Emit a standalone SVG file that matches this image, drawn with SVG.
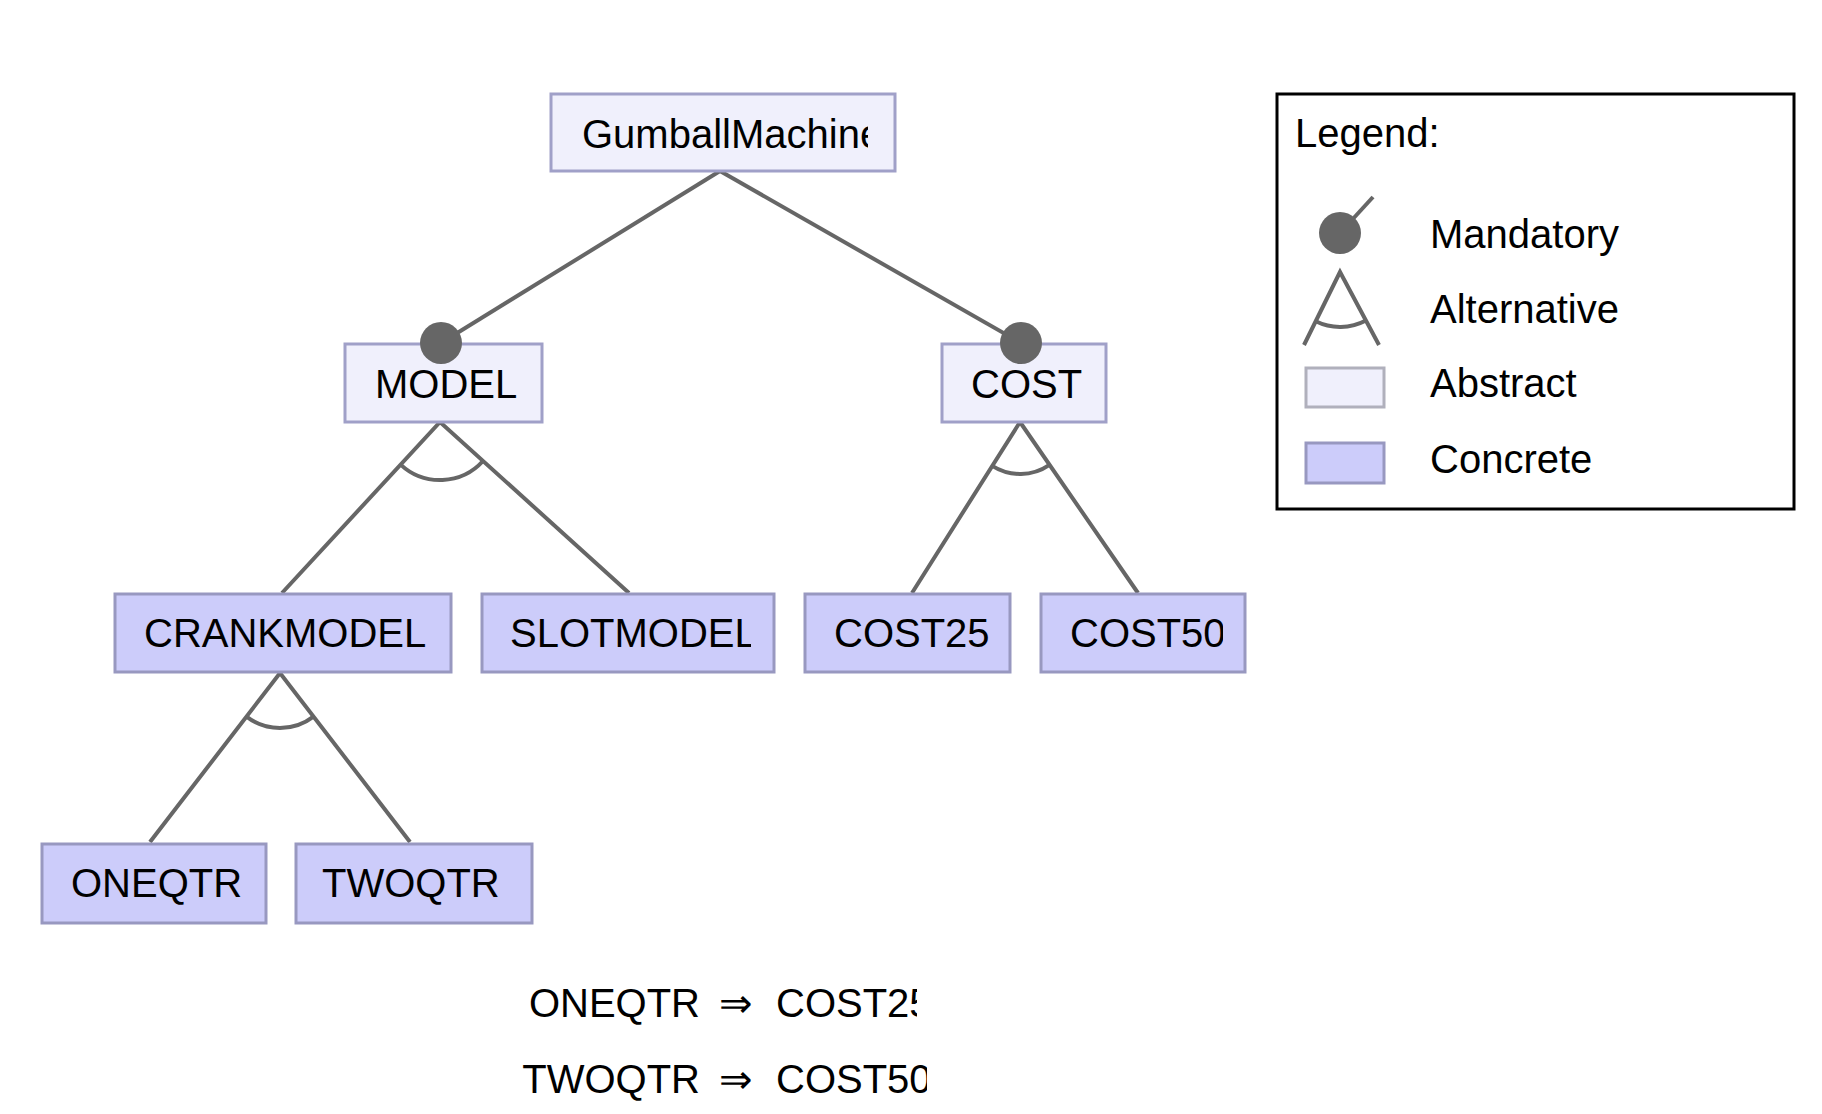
<svg xmlns="http://www.w3.org/2000/svg" width="1822" height="1114" viewBox="0 0 1822 1114">
<style>
text{font-family:"Liberation Sans",Arial,sans-serif;font-size:40px;fill:#000}
.abs{fill:#f0f0fc;stroke:#a0a0c8;stroke-width:3}
.con{fill:#ccccfa;stroke:#9898c0;stroke-width:3}
.ln{stroke:#666;stroke-width:4;fill:none}
.dot{fill:#666}
</style>
<defs>
<clipPath id="cGM"><rect x="553" y="96" width="315" height="72"/></clipPath>
<clipPath id="cSM"><rect x="483" y="596" width="268" height="74"/></clipPath>
<clipPath id="cC50"><rect x="1043" y="596" width="180" height="74"/></clipPath>
<clipPath id="cK1"><rect x="500" y="960" width="417" height="70"/></clipPath>
<clipPath id="cK2"><rect x="500" y="1035" width="427" height="75"/></clipPath>
</defs>
<rect width="1822" height="1114" fill="#fff"/>
<g id="connectors">
<line class="ln" x1="720" y1="171" x2="441" y2="343"/>
<line class="ln" x1="720" y1="171" x2="1021" y2="343"/>
<polyline class="ln" points="282,593 440,422 629,593"/>
<path class="ln" d="M400.6,464.6 A58,58 0 0 0 483,461"/>
<polyline class="ln" points="912,593 1020,422 1138,593"/>
<path class="ln" d="M992.2,465.9 A52,52 0 0 0 1049.5,464.8"/>
<polyline class="ln" points="150,842 280,673 410,842"/>
<path class="ln" d="M246.5,716.6 A55,55 0 0 0 313.5,716.6"/>
</g>
<g id="GumballMachine">
<rect class="abs" x="551" y="94" width="344" height="77"/>
<text x="582" y="148" clip-path="url(#cGM)">GumballMachine</text>
</g>
<g id="MODEL">
<rect class="abs" x="345" y="344" width="197" height="78"/>
<text x="375" y="398">MODEL</text>
<circle class="dot" cx="441" cy="343" r="21"/>
</g>
<g id="COST">
<rect class="abs" x="942" y="344" width="164" height="78"/>
<text x="971" y="398">COST</text>
<circle class="dot" cx="1021" cy="343" r="21"/>
</g>
<g id="CRANKMODEL">
<rect class="con" x="115" y="594" width="336" height="78"/>
<text x="144" y="647">CRANKMODEL</text>
</g>
<g id="SLOTMODEL">
<rect class="con" x="482" y="594" width="292" height="78"/>
<text x="510" y="647" clip-path="url(#cSM)">SLOTMODEL</text>
</g>
<g id="COST25">
<rect class="con" x="805" y="594" width="205" height="78"/>
<text x="834" y="647">COST25</text>
</g>
<g id="COST50">
<rect class="con" x="1041" y="594" width="204" height="78"/>
<text x="1070" y="647" clip-path="url(#cC50)">COST50</text>
</g>
<g id="ONEQTR">
<rect class="con" x="42" y="844" width="224" height="79"/>
<text x="71" y="897">ONEQTR</text>
</g>
<g id="TWOQTR">
<rect class="con" x="296" y="844" width="236" height="79"/>
<text x="322" y="897">TWOQTR</text>
</g>
<g id="constraints">
<g clip-path="url(#cK1)">
<text x="700" y="1017" text-anchor="end">ONEQTR</text>
<text x="736" y="1017" text-anchor="middle">⇒</text>
<text x="776" y="1017">COST25</text>
</g>
<g clip-path="url(#cK2)">
<text x="700" y="1093" text-anchor="end">TWOQTR</text>
<text x="736" y="1093" text-anchor="middle">⇒</text>
<text x="776" y="1093">COST50</text>
</g>
</g>
<g id="legend">
<rect x="1277" y="94" width="517" height="415" fill="#fff" stroke="#000" stroke-width="3"/>
<text x="1295" y="147">Legend:</text>
<line class="ln" x1="1340" y1="233" x2="1373" y2="197"/>
<circle class="dot" cx="1340" cy="233" r="21"/>
<text x="1430" y="248">Mandatory</text>
<polyline class="ln" points="1304,345 1340,272 1379,345"/>
<path class="ln" d="M1315.7,321.3 A55,55 0 0 0 1365.9,320.5"/>
<text x="1430" y="323">Alternative</text>
<rect x="1306" y="368" width="78" height="39" fill="#f0f0fc" stroke="#b0b0bc" stroke-width="3"/>
<text x="1430" y="397">Abstract</text>
<rect x="1306" y="443" width="78" height="40" fill="#ccccfa" stroke="#9898c0" stroke-width="3"/>
<text x="1430" y="473">Concrete</text>
</g>
</svg>
